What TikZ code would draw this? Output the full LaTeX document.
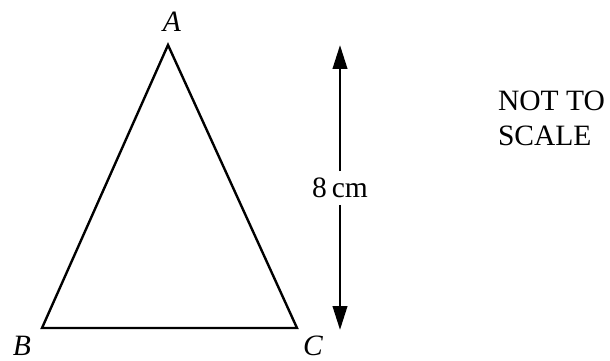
\documentclass[tikz,border=0pt]{standalone}
\usepackage{fontspec}
\setmainfont{Liberation Serif}
\usetikzlibrary{positioning,arrows.meta}

\begin{document}
\begin{tikzpicture}[line width=1.7pt, every node/.style={font=\fontsize{21}{25}\selectfont}]
\useasboundingbox (0,0) rectangle (15.25,9);
\coordinate (A) at (4.2,7.875);
\coordinate (B) at (1.05,0.8);
\coordinate (C) at (7.425,0.8);
\node (a) at (4.3,8.45) {\textit{A}};
\node (b) at (0.55,0.36) {\textit{B}};
\node (c) at (7.825,0.36) {\textit{C}};
\draw[line join=miter] (A) -- (B) -- (C) -- cycle;
\coordinate (top) at (8.5,7.875);
\coordinate (bot) at (8.5,0.75);
\node[inner sep=4pt] (len) at (8.5,4.3) {8\,cm};
\draw[line width=2pt, -{Triangle[length=6mm,width=3.6mm]}] (len) -- (top);
\draw[line width=2pt, -{Triangle[length=6mm,width=3.6mm]}] (len) -- (bot);
\node[align=left, anchor=north west, inner sep=0pt] (note) at (12.42,6.75) {NOT TO\\SCALE};
\end{tikzpicture}
\end{document}
